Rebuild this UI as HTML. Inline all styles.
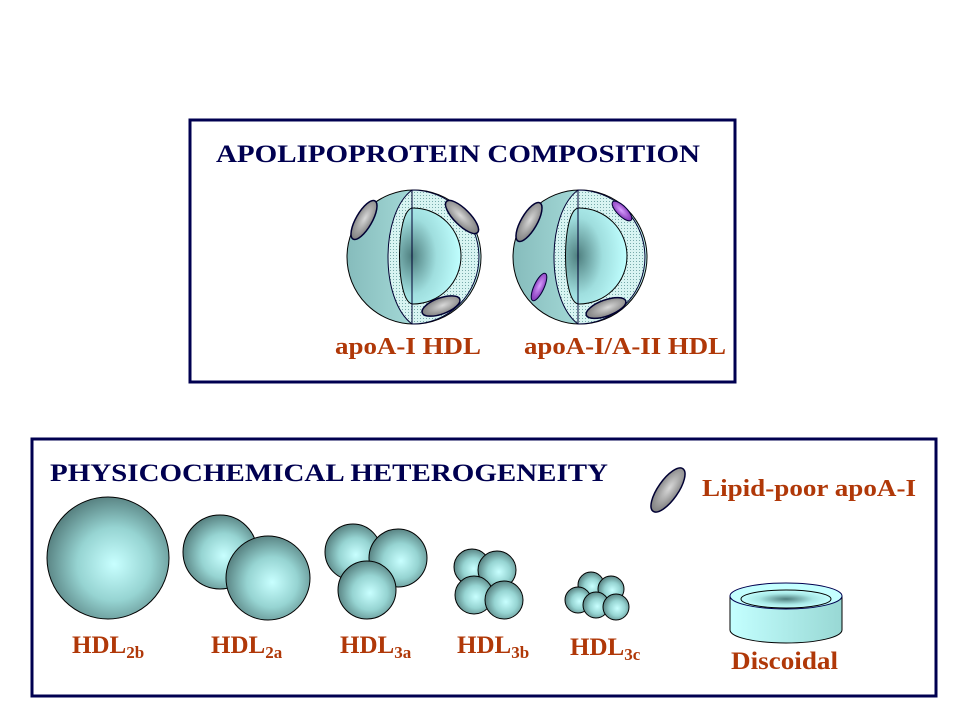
<!DOCTYPE html>
<html><head><meta charset="utf-8"><style>
html,body{margin:0;padding:0;background:#fff;width:960px;height:720px;overflow:hidden}
svg{display:block}
text{font-family:"Liberation Serif",serif;font-weight:bold}
</style></head><body>
<svg width="960" height="720" viewBox="0 0 960 720">
<defs>
<radialGradient id="sph" cx="0.55" cy="0.55" r="0.6">
<stop offset="0" stop-color="#c8ffff"/><stop offset="0.5" stop-color="#96d4d2"/><stop offset="1" stop-color="#4f7676"/>
</radialGradient>
<radialGradient id="core" cx="0.2" cy="0.5" r="0.8">
<stop offset="0" stop-color="#4f7f7f"/><stop offset="0.5" stop-color="#9fdede"/><stop offset="1" stop-color="#c0ffff"/>
</radialGradient>
<linearGradient id="outer" x1="0" x2="1"><stop offset="0" stop-color="#86bcbc"/><stop offset="1" stop-color="#c2f6f2"/></linearGradient>
<radialGradient id="gray" cx="0.5" cy="0.45" r="0.6"><stop offset="0" stop-color="#d8d8d8"/><stop offset="1" stop-color="#777"/></radialGradient>
<radialGradient id="purp" cx="0.5" cy="0.45" r="0.6"><stop offset="0" stop-color="#d8a0ff"/><stop offset="1" stop-color="#7a2ab0"/></radialGradient>
<pattern id="dots" width="3" height="3" patternUnits="userSpaceOnUse"><rect width="3" height="3" fill="#d8f4f2"/><rect width="1" height="1" fill="#7aa"/></pattern>
<linearGradient id="disc" x1="0" x2="1"><stop offset="0" stop-color="#c4ffff"/><stop offset="1" stop-color="#98d8d4"/></linearGradient>
<radialGradient id="discin"><stop offset="0" stop-color="#4f7f7f"/><stop offset="0.6" stop-color="#a8e8e6"/><stop offset="1" stop-color="#c4ffff"/></radialGradient>
</defs>

<rect x="190" y="120" width="545" height="262" fill="none" stroke="#000050" stroke-width="3"/>
<text x="216" y="162" font-size="25" fill="#000050" textLength="484" lengthAdjust="spacingAndGlyphs">APOLIPOPROTEIN  COMPOSITION</text>

<g>
<circle cx="414" cy="257" r="67" fill="url(#outer)" stroke="#000" stroke-width="1"/>
<path d="M412,190 A67,67 0 0 1 412,324 C380,300 380,214 412,190Z" fill="url(#dots)" stroke="#003" stroke-width="1"/>
<path d="M413,208 C395,208 395,304 413,304 A48,48 0 0 0 413,208Z" fill="url(#core)" stroke="#000"/>
<line x1="412" y1="190" x2="412" y2="324" stroke="#003"/>
<ellipse cx="364" cy="220" rx="8" ry="22" transform="rotate(30 364 220)" fill="url(#gray)" stroke="#003" stroke-width="1.5"/>
<ellipse cx="462" cy="217" rx="8" ry="22" transform="rotate(-45 462 217)" fill="url(#gray)" stroke="#003" stroke-width="1.5"/>
<ellipse cx="441" cy="306" rx="8" ry="20" transform="rotate(70 441 306)" fill="url(#gray)" stroke="#003" stroke-width="1.5"/>
</g>
<g>
<circle cx="580" cy="257" r="67" fill="url(#outer)" stroke="#000" stroke-width="1"/>
<path d="M578,190 A67,67 0 0 1 578,324 C546,300 546,214 578,190Z" fill="url(#dots)" stroke="#003" stroke-width="1"/>
<path d="M579,208 C561,208 561,304 579,304 A48,48 0 0 0 579,208Z" fill="url(#core)" stroke="#000"/>
<line x1="578" y1="190" x2="578" y2="324" stroke="#003"/>
<ellipse cx="529" cy="222" rx="8" ry="22" transform="rotate(30 529 222)" fill="url(#gray)" stroke="#003" stroke-width="1.5"/>
<ellipse cx="622" cy="211" rx="5" ry="13" transform="rotate(-45 622 211)" fill="url(#purp)" stroke="#003"/>
<ellipse cx="539" cy="287" rx="5" ry="15" transform="rotate(25 539 287)" fill="url(#purp)" stroke="#003"/>
<ellipse cx="606" cy="308" rx="8" ry="21" transform="rotate(70 606 308)" fill="url(#gray)" stroke="#003" stroke-width="1.5"/>
</g>
<text x="335" y="354" font-size="24" fill="#b03808" textLength="146" lengthAdjust="spacingAndGlyphs">apoA-I HDL</text>
<text x="524" y="354" font-size="24" fill="#b03808" textLength="202" lengthAdjust="spacingAndGlyphs">apoA-I/A-II HDL</text>

<rect x="32" y="439" width="904" height="257" fill="none" stroke="#000050" stroke-width="3"/>
<text x="50" y="481" font-size="25" fill="#000050" textLength="558" lengthAdjust="spacingAndGlyphs">PHYSICOCHEMICAL  HETEROGENEITY</text>
<ellipse cx="668" cy="490" rx="10" ry="26" transform="rotate(35 668 490)" fill="url(#gray)" stroke="#003" stroke-width="1.5"/>
<text x="702" y="496" font-size="24" fill="#b03808" textLength="214" lengthAdjust="spacingAndGlyphs">Lipid-poor apoA-I</text>

<g fill="url(#sph)" stroke="#000" stroke-width="1">
<circle cx="108" cy="558" r="61"/>
<circle cx="220" cy="552" r="37"/><circle cx="268" cy="578" r="42"/>
<circle cx="353" cy="552" r="28"/><circle cx="398" cy="558" r="29"/><circle cx="367" cy="590" r="29"/>
<circle cx="472" cy="567" r="18"/><circle cx="497" cy="570" r="19"/><circle cx="474" cy="595" r="19"/><circle cx="504" cy="600" r="19"/>
<circle cx="591" cy="585" r="13"/><circle cx="611" cy="589" r="13"/><circle cx="578" cy="600" r="13"/><circle cx="596" cy="605" r="13"/><circle cx="616" cy="607" r="13"/>
</g>
<path d="M730,596 L730,630 A56,13 0 0 0 842,630 L842,596Z" fill="url(#disc)" stroke="#000"/>
<ellipse cx="786" cy="596" rx="56" ry="13" fill="#c4ffff" stroke="#000050"/>
<ellipse cx="786" cy="599" rx="45" ry="9" fill="url(#discin)" stroke="#000"/>

<g font-size="25" fill="#b03808">
<text x="72" y="653">HDL<tspan font-size="17" dy="5">2b</tspan></text>
<text x="211" y="653">HDL<tspan font-size="17" dy="5">2a</tspan></text>
<text x="340" y="653">HDL<tspan font-size="17" dy="5">3a</tspan></text>
<text x="457" y="653">HDL<tspan font-size="17" dy="5">3b</tspan></text>
<text x="570" y="655">HDL<tspan font-size="17" dy="5">3c</tspan></text>
<text x="731" y="669" textLength="107" lengthAdjust="spacingAndGlyphs">Discoidal</text>
</g>
</svg>
</body></html>
